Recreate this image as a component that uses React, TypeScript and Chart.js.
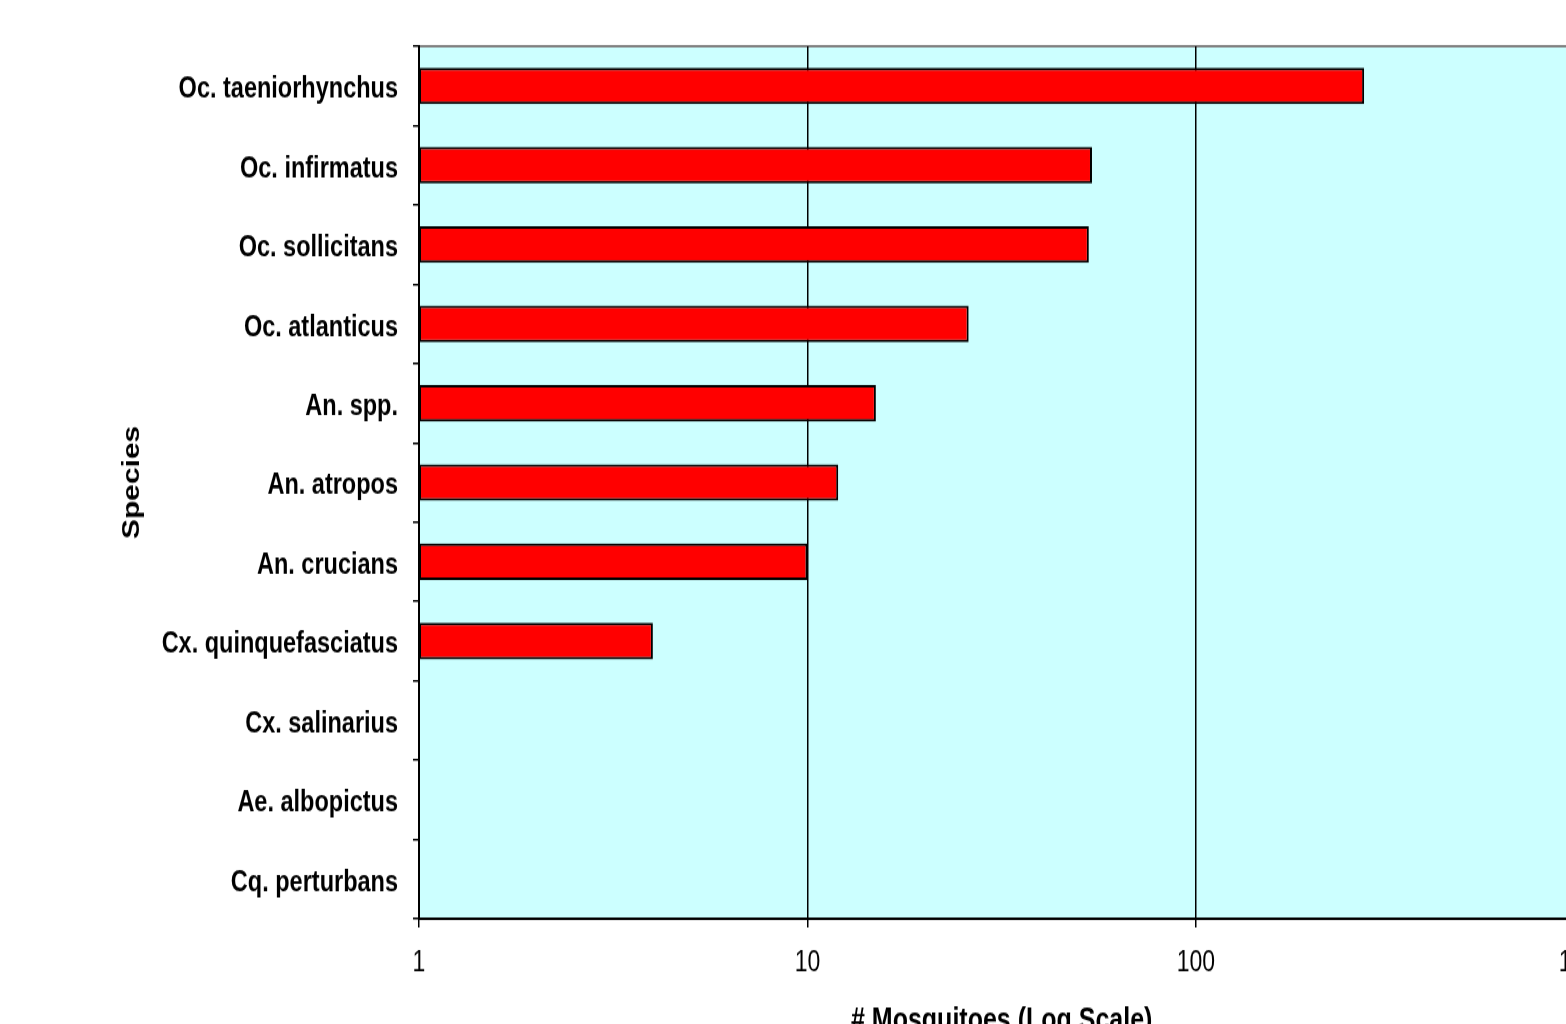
import React, { useEffect, useRef } from "react";
import { Chart, registerables } from "chart.js";

Chart.register(...registerables);

// ---- data ----
const categories = [
  "Oc. taeniorhynchus",
  "Oc. infirmatus",
  "Oc. sollicitans",
  "Oc. atlanticus",
  "An. spp.",
  "An. atropos",
  "An. crucians",
  "Cx. quinquefasciatus",
  "Cx. salinarius",
  "Ae. albopictus",
  "Cq. perturbans",
];
const counts: (number | null)[] = [271, 54, 53, 26, 15, 12, 10, 4, null, null, null];
const xTickValues = [1, 10, 100, 1000];
const xTitle = "# Mosquitoes (Log Scale)";
const yTitle = "Species";

// ---- layout (canvas drawn then stretched vertically like the reference) ----
const CANVAS_W = 1625;
const CANVAS_H = 850;
const STRETCH = 1.25;

const plotBg = {
  id: "plotBg",
  beforeDraw(chart: any) {
    const { ctx, chartArea: a } = chart;
    ctx.save();
    ctx.fillStyle = "#CCFFFF";
    ctx.fillRect(a.left, a.top, a.right - a.left, a.bottom - a.top);
    ctx.strokeStyle = "#808080";
    ctx.lineWidth = 2;
    ctx.beginPath();
    ctx.moveTo(a.left, a.top);
    ctx.lineTo(a.right, a.top);
    ctx.lineTo(a.right, a.bottom);
    ctx.stroke();
    ctx.restore();
  },
};

export default function App() {
  const ref = useRef<HTMLCanvasElement | null>(null);

  useEffect(() => {
    if (!ref.current) return;
    Chart.defaults.font.family = "'Liberation Sans', Arial, sans-serif";
    Chart.defaults.color = "#000";
    const chart = new Chart(ref.current, {
      type: "bar",
      data: {
        labels: categories,
        datasets: [
          {
            data: counts as any,
            backgroundColor: "#FF0000",
            borderColor: "#000000",
            borderWidth: 2,
            borderSkipped: false,
            barPercentage: 0.46,
            categoryPercentage: 1,
          },
        ],
      },
      options: {
        indexAxis: "y",
        animation: false,
        responsive: false,
        maintainAspectRatio: false,
        events: [],
        layout: { padding: { left: 0, top: 37, right: 32, bottom: 0 } },
        plugins: {
          legend: { display: false },
          title: { display: false },
          tooltip: { enabled: false },
        },
        scales: {
          x: {
            type: "logarithmic",
            min: 1,
            max: 1000,
            afterBuildTicks: (s: any) => {
              s.ticks = xTickValues.map((v) => ({ value: v, major: true }));
            },
            afterFit: (s: any) => {
              s.height = 115;
            },
            grid: {
              color: "#000",
              lineWidth: 1.5,
              drawTicks: true,
              tickLength: 7,
              tickColor: "#000",
            },
            border: { color: "#000", width: 2 },
            ticks: {
              color: "#000",
              font: { size: 23 },
              padding: 15,
              autoSkip: false,
              maxRotation: 0,
              callback: (v: any) => String(v),
            },
            title: {
              display: true,
              text: xTitle,
              color: "#000",
              font: { size: 25, weight: "bold" },
              padding: { top: 0, bottom: 18 },
            },
          },
          y: {
            type: "category",
            afterFit: (s: any) => {
              s.width = 419;
            },
            grid: {
              display: true,
              drawOnChartArea: false,
              drawTicks: true,
              tickLength: 6,
              color: "#000",
              lineWidth: 1.5,
              offset: true,
            },
            border: { color: "#000", width: 2 },
            ticks: {
              color: "#000",
              font: { size: 23.5, weight: "bold" },
              padding: 15,
              labelOffset: 3,
              autoSkip: false,
            },
            title: {
              display: true,
              text: yTitle,
              color: "#000",
              font: { size: 24, weight: "bold" },
              padding: { top: 118, bottom: 0 },
            },
          },
        },
      },
      plugins: [plotBg],
    } as any);
    return () => chart.destroy();
  }, []);

  return (
    <div
      style={{
        position: "fixed",
        left: 0,
        top: 0,
        width: "100vw",
        height: "100vh",
        overflow: "hidden",
        background: "#fff",
      }}
    >
      <div
        style={{
          position: "absolute",
          left: 0,
          top: 0,
          width: CANVAS_W,
          height: CANVAS_H,
          transform: `scaleY(${STRETCH})`,
          transformOrigin: "0 0",
        }}
      >
        <canvas ref={ref} width={CANVAS_W} height={CANVAS_H} />
      </div>
    </div>
  );
}
